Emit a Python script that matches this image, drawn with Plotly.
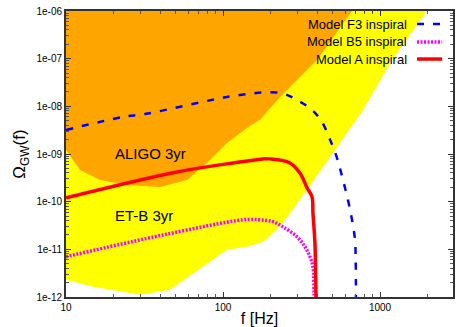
import plotly.graph_objects as go

# ---- data ----
# ET-B 3yr sensitivity region (boundary, Hz / Omega)
etb_f = [5, 10, 14.9, 29.6, 45.9, 74.6, 106, 142, 180, 208, 241, 343, 517, 779, 1191, 1991, 2560, 5]
etb_om = [3e-12, 2.3e-12, 1.64e-12, 1.11e-12, 1.42e-12, 4.3e-12, 9.8e-12, 1.13e-11, 1.44e-11,
          2.2e-11, 3.6e-11, 1.77e-10, 1.22e-9, 8.4e-9, 9.4e-8, 1e-6, 3.2e-6, 3.2e-6]
# ALIGO 3yr sensitivity region
aligo_f = [5, 10, 12.3, 16.5, 24.5, 39.7, 59, 79, 106, 142, 172, 231, 397, 664, 853, 5]
aligo_om = [3e-9, 1.22e-9, 4.6e-10, 2.86e-10, 2.25e-10, 2.04e-10, 2.86e-10, 6.5e-10, 1.71e-9,
            3.5e-9, 5.2e-9, 1.57e-8, 9.4e-8, 1e-6, 3.2e-6, 3.2e-6]
# Model F3 inspiral
f3_f = [10, 23.1, 31.8, 128, 231, 296, 369, 427, 481, 532, 581, 625, 663, 693, 700, 703]
f3_om = [3.2e-9, 6.0e-9, 6.9e-9, 1.73e-8, 1.91e-8, 1.36e-8, 8.4e-9, 4.7e-9, 1.98e-9, 8.3e-10,
         2.86e-10, 1.09e-10, 4.2e-11, 1.58e-11, 6e-12, 5e-13]
# Model B5 inspiral
b5_f = [10, 41.5, 134, 172, 208, 241, 296, 333, 358, 374, 380, 381]
b5_om = [7.0e-12, 2.0e-11, 4.15e-11, 4.15e-11, 3.8e-11, 2.96e-11, 1.83e-11, 1.13e-11, 7e-12,
         4.3e-12, 1.23e-12, 5e-13]
# Model A inspiral
a_f = [10, 50.9, 128, 180, 199, 267, 309, 343, 369, 374, 385, 391, 392]
a_om = [1.2e-10, 4.2e-10, 6.8e-10, 7.9e-10, 7.9e-10, 6.5e-10, 4.0e-10, 1.95e-10, 1.26e-10,
        5.8e-11, 1.37e-11, 1.2e-12, 5e-13]

x_ticks = [10, 100, 1000]
x_ticktext = ["10", "100", "1000"]
y_ticks = [1e-12, 1e-11, 1e-10, 1e-9, 1e-8, 1e-7, 1e-6]
y_ticktext = ["1e-12", "1e-11", "1e-10", "1e-09", "1e-08", "1e-07", "1e-06"]

x_minor = [m * 10 ** e for e in (1, 2, 3) for m in range(2, 10) if m * 10 ** e <= 2900]
y_minor = [m * 10.0 ** e for e in range(-12, -6) for m in range(2, 10)]

FONT = "Liberation Sans, Arial, sans-serif"

fig = go.Figure()
fig.add_trace(go.Scatter(x=etb_f, y=etb_om, fill="toself", fillcolor="#FFFF00",
                         line=dict(width=0), mode="lines", hoverinfo="skip", showlegend=False))
fig.add_trace(go.Scatter(x=aligo_f, y=aligo_om, fill="toself", fillcolor="#FFA500",
                         line=dict(width=0), mode="lines", hoverinfo="skip", showlegend=False))
fig.add_trace(go.Scatter(x=f3_f, y=f3_om, mode="lines", line=dict(color="#0000FF", width=2.5, dash="7px,9px"),
                         line_shape="spline", showlegend=False))
fig.add_trace(go.Scatter(x=b5_f, y=b5_om, mode="lines", line=dict(color="#FF00FF", width=3.5, dash="2px,1.5px"),
                         line_shape="spline", showlegend=False))
fig.add_trace(go.Scatter(x=a_f, y=a_om, mode="lines", line=dict(color="#FF0000", width=3.5),
                         line_shape="spline", showlegend=False))

# region labels
fig.add_annotation(x=1.3, y=-8.98, xref="x", yref="y", text="ALIGO 3yr", showarrow=False,
                   xanchor="left", font=dict(size=15, color="black", family=FONT))
fig.add_annotation(x=1.3, y=-10.3, xref="x", yref="y", text="ET-B 3yr", showarrow=False,
                   xanchor="left", font=dict(size=15, color="black", family=FONT))

# manual legend (gnuplot style: text then sample on the right)
leg_names = ["Model F3 inspiral", "Model B5 inspiral", "Model A inspiral"]
leg_colors = ["#0000FF", "#FF00FF", "#FF0000"]
leg_dash = ["7px,9px", "2px,1.5px", "solid"]
leg_w = [2.5, 3.5, 3.5]
leg_y = [0.9545, 0.892, 0.832]
for name, c, d, w, yy in zip(leg_names, leg_colors, leg_dash, leg_w, leg_y):
    fig.add_annotation(x=0.886, y=yy, xref="paper", yref="paper", text=name, showarrow=False,
                       xanchor="right", yanchor="middle", font=dict(size=13, color="black", family=FONT))
    fig.add_shape(type="line", xref="paper", yref="paper", x0=0.907, x1=0.972, y0=yy, y1=yy,
                  line=dict(color=c, width=w, dash=d))

axis_common = dict(showgrid=False, zeroline=False, showline=True, linecolor="#333333", linewidth=2,
                   mirror="ticks", ticks="inside", ticklen=5, tickcolor="#333333", tickwidth=1,
                   automargin=False, ticklabeloverflow="allow",
                   tickfont=dict(size=10, color="black", family=FONT))
fig.update_xaxes(type="log", range=[1, 3.465], tickmode="array", tickvals=x_ticks, ticktext=x_ticktext,
                 minor=dict(tickmode="array", tickvals=x_minor, ticks="inside", ticklen=3, tickcolor="#555555"),
                 title=dict(text="f [Hz]", font=dict(size=16, color="black", family=FONT), standoff=2),
                 **axis_common)
fig.update_yaxes(type="log", range=[-12, -6], tickmode="array", tickvals=y_ticks, ticktext=y_ticktext,
                 minor=dict(tickmode="array", tickvals=y_minor, ticks="inside", ticklen=3, tickcolor="#555555"),
                 title=dict(text="Ω<sub>GW</sub>(f)", font=dict(size=17, color="black", family=FONT), standoff=6),
                 **axis_common)

fig.update_layout(width=467, height=327, margin=dict(l=66, r=14, t=11, b=30),
                  plot_bgcolor="white", paper_bgcolor="white", showlegend=False)

# remove the browser's default 8px body margin so the figure fills the window exactly
fig.write_html("out.html", config={"displayModeBar": False},
               post_script="document.body.style.margin='0';")
